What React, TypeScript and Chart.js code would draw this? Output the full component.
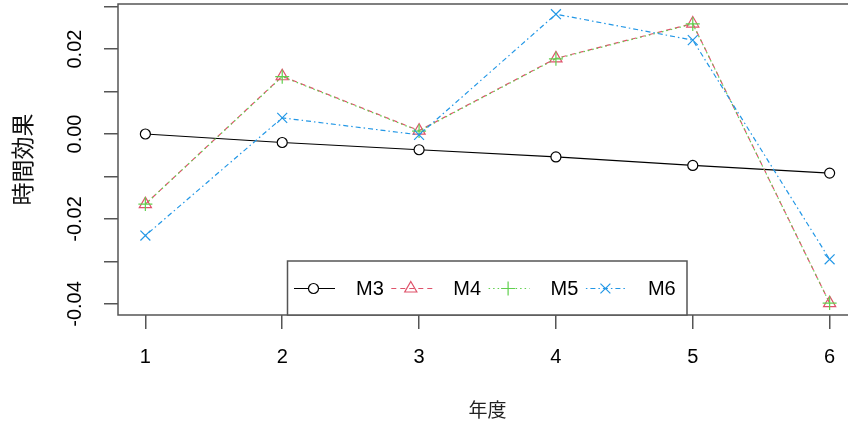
import React, { useEffect, useRef } from "react";
import { Chart, registerables } from "chart.js";
import { drawPoint } from "chart.js/helpers";

Chart.register(...registerables);

const years = [1, 2, 3, 4, 5, 6];
const xTickLabels = ["1", "2", "3", "4", "5", "6"];
const yTickValues = [-0.04, -0.03, -0.02, -0.01, 0.0, 0.01, 0.02, 0.03];
const yTickLabels = ["-0.04", "", "-0.02", "", "0.00", "", "0.02", ""];

const seriesNames = ["M3", "M4", "M5", "M6"];
const m3 = [0.0, -0.002, -0.0037, -0.0054, -0.0074, -0.0092];
const m4 = [-0.0165, 0.0136, 0.0008, 0.0178, 0.026, -0.0398];
const m5 = [-0.0165, 0.0135, 0.0007, 0.0177, 0.0259, -0.0398];
const m6 = [-0.0239, 0.0038, -0.0002, 0.0282, 0.0221, -0.0295];

const xTitle = "年度";
const yTitle = "時間効果";

const AXIS_FONT = "'Liberation Sans', Arial, sans-serif";
const CJK_FONT = "'Noto Sans CJK JP', sans-serif";

const styles = [
  { color: "#000000", dash: [], pointStyle: "circle", radius: 5, bg: "#ffffff" },
  { color: "#DF536B", dash: [5, 4], pointStyle: "triangle", radius: 7, bg: "rgba(0,0,0,0)" },
  { color: "#61D04F", dash: [1.5, 3], pointStyle: "cross", radius: 7, bg: "rgba(0,0,0,0)" },
  { color: "#2297E6", dash: [1.5, 3, 5, 3], pointStyle: "crossRot", radius: 7, bg: "rgba(0,0,0,0)" },
];

const boxPlugin = {
  id: "rbox",
  afterDraw(chart: any) {
    const { ctx, chartArea } = chart;
    ctx.save();
    ctx.strokeStyle = "#555";
    ctx.lineWidth = 1.5;
    ctx.strokeRect(chartArea.left, chartArea.top, chartArea.right - chartArea.left, chartArea.bottom - chartArea.top);
    ctx.restore();
  },
};

const legendPlugin = {
  id: "rlegend",
  afterDraw(chart: any) {
    const { ctx, chartArea } = chart;
    const left = 287.5;
    const top = 261;
    const right = 687;
    const bottom = chartArea.bottom;
    ctx.save();
    ctx.fillStyle = "#ffffff";
    ctx.fillRect(left, top, right - left, bottom - top);
    ctx.strokeStyle = "#555";
    ctx.lineWidth = 1.5;
    ctx.strokeRect(left, top, right - left, bottom - top);
    const y = 288.5;
    chart.data.datasets.forEach((ds: any, i: number) => {
      const st = styles[i];
      const x0 = 294 + i * 97.3;
      ctx.save();
      ctx.strokeStyle = st.color;
      ctx.lineWidth = 1.2;
      ctx.setLineDash(st.dash);
      ctx.beginPath();
      ctx.moveTo(x0, y);
      ctx.lineTo(x0 + 41, y);
      ctx.stroke();
      ctx.setLineDash([]);
      ctx.fillStyle = st.bg;
      ctx.strokeStyle = st.color;
      ctx.lineWidth = 1.2;
      drawPoint(ctx, { pointStyle: st.pointStyle, radius: st.radius, rotation: 0, borderWidth: 1.2 }, x0 + 19.5, y);
      ctx.restore();
      ctx.fillStyle = "#000";
      ctx.font = `20px ${AXIS_FONT}`;
      ctx.textAlign = "left";
      ctx.textBaseline = "middle";
      ctx.fillText(ds.label, x0 + 62, y + 1);
    });
    ctx.restore();
  },
};

export default function App() {
  const ref = useRef<HTMLCanvasElement | null>(null);
  useEffect(() => {
    if (!ref.current) return;
    const allSeries = [m3, m4, m5, m6];
    const chart = new Chart(ref.current, {
      type: "line",
      data: {
        datasets: allSeries.map((vals, i) => ({
          label: seriesNames[i],
          data: years.map((x, j) => ({ x, y: vals[j] })),
          order: allSeries.length - 1 - i,
          borderColor: styles[i].color,
          borderWidth: 1.2,
          borderDash: styles[i].dash,
          pointStyle: styles[i].pointStyle as any,
          pointRadius: styles[i].radius,
          pointBorderColor: styles[i].color,
          pointBackgroundColor: styles[i].bg,
          pointBorderWidth: 1.2,
          tension: 0,
          fill: false,
        })),
      },
      options: {
        animation: false,
        responsive: false,
        events: [],
        layout: { autoPadding: false, padding: { top: 4, right: 13, left: 0, bottom: 0 } },
        plugins: { legend: { display: false }, tooltip: { enabled: false } },
        scales: {
          x: {
            type: "linear",
            min: 0.8,
            max: 6.2,
            afterBuildTicks: (scale: any) => {
              scale.ticks = years.map((v) => ({ value: v }));
            },
            afterFit: (scale: any) => {
              scale.height = 110;
              scale.paddingLeft = 0;
              scale.paddingRight = 0;
            },
            border: { display: false },
            grid: { drawOnChartArea: false, drawTicks: true, tickLength: 14, color: "#555", lineWidth: 1.5 },
            ticks: {
              autoSkip: false,
              maxRotation: 0,
              padding: 16,
              color: "#000",
              font: { family: AXIS_FONT, size: 20 },
              callback: (v: any) => xTickLabels[years.indexOf(Number(v))] ?? "",
            },
            title: {
              display: true,
              text: xTitle,
              color: "#222",
              font: { family: CJK_FONT, size: 19 },
              padding: { top: 0, bottom: 4 },
            },
          },
          y: {
            type: "linear",
            min: -0.0426,
            max: 0.0306,
            afterBuildTicks: (scale: any) => {
              scale.ticks = yTickValues.map((v) => ({ value: v }));
            },
            afterFit: (scale: any) => {
              scale.width = 118;
              scale.paddingTop = 0;
              scale.paddingBottom = 0;
            },
            border: { display: false },
            grid: { drawOnChartArea: false, drawTicks: true, tickLength: 14, color: "#555", lineWidth: 1.5 },
            ticks: {
              autoSkip: false,
              minRotation: 90,
              maxRotation: 90,
              crossAlign: "center",
              padding: 6,
              color: "#000",
              font: { family: AXIS_FONT, size: 20 },
              callback: (v: any) => {
                const idx = yTickValues.findIndex((t) => Math.abs(t - Number(v)) < 1e-9);
                return idx >= 0 ? yTickLabels[idx] : "";
              },
            },
            title: {
              display: true,
              text: yTitle,
              color: "#111",
              font: { family: CJK_FONT, size: 23 },
              padding: { top: 8, bottom: 0 },
            },
          },
        },
      },
      plugins: [boxPlugin, legendPlugin],
    } as any);
    return () => chart.destroy();
  }, []);
  return (
    <div style={{ position: "absolute", left: 0, top: 0, width: 848, height: 425, overflow: "hidden", background: "#fff" }}>
      <canvas ref={ref} width={870} height={425} style={{ width: 870, height: 425, display: "block" }} />
    </div>
  );
}
